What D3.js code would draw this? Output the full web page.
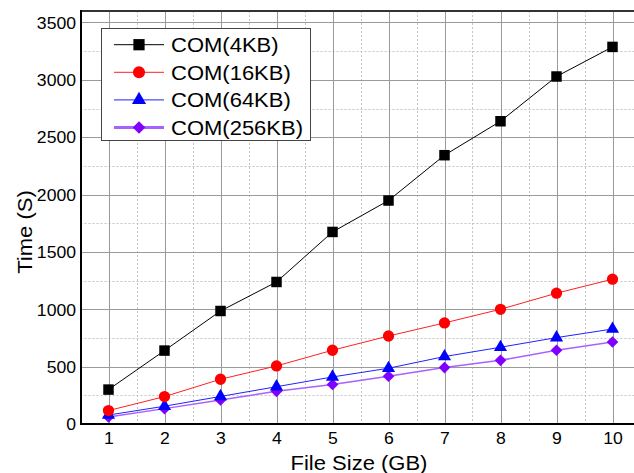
<!DOCTYPE html>
<html>
<head>
<meta charset="utf-8">
<script src="https://cdn.jsdelivr.net/npm/d3@7"></script>
<style>
  body { margin: 0; background: #fff; }
  text { font-family: Arial, "Liberation Sans", sans-serif; fill: #000; }
</style>
</head>
<body>
<script>
// data
var sizes = [1, 2, 3, 4, 5, 6, 7, 8, 9, 10];
var com4 = [300, 640, 985, 1238, 1674, 1948, 2343, 2639, 3029, 3287];
var com16 = [117, 239, 390, 506, 643, 767, 881, 1000, 1140, 1262];
var com64 = [78, 155, 240, 325, 410, 486, 588, 669, 753, 828];
var com256 = [61, 134, 209, 285, 344, 416, 492, 555, 643, 715];
var names = ["COM(4KB)", "COM(16KB)", "COM(64KB)", "COM(256KB)"];
var yTicks = [0, 500, 1000, 1500, 2000, 2500, 3000, 3500];

var series = [
    { name: names[0], values: com4, color: "#000000", line: "#000000", lw: 1, shape: d3.symbolSquare, size: 110, rot: 0 },
    { name: names[1], values: com16, color: "#ff0000", line: "#ff2020", lw: 1, shape: d3.symbolCircle, size: 100, rot: 0 },
    { name: names[2], values: com64, color: "#0000ff", line: "#2020ff", lw: 1, shape: d3.symbolTriangle, size: 75, rot: 0 },
    { name: names[3], values: com256, color: "#8000ff", line: "#a860ff", lw: 1.5, shape: d3.symbolSquare, size: 68, rot: 45 }
];

var width = 634, height = 473;

var svg = d3.select("body").append("svg")
    .attr("width", width)
    .attr("height", height);

var x = d3.scaleLinear().domain([0.5, 10.5]).range([80.5, 640.5]);
var y = d3.scaleLinear().domain([0, 3600]).range([424, 11]);

// grid: minor dotted, major solid
var grid = svg.append("g");
var minorX = sizes.map(function (d) { return d + 0.5; });
var minorY = yTicks.map(function (d) { return d + 250; });

grid.selectAll(".mx").data(minorX).enter().append("line")
    .attr("x1", function (d) { return Math.round(x(d)) + 0.5; })
    .attr("x2", function (d) { return Math.round(x(d)) + 0.5; })
    .attr("y1", y(3600)).attr("y2", y(0))
    .attr("stroke", "#c4c4c4").attr("stroke-dasharray", "2,2");
grid.selectAll(".my").data(minorY).enter().append("line")
    .attr("y1", function (d) { return Math.round(y(d)) + 0.5; })
    .attr("y2", function (d) { return Math.round(y(d)) + 0.5; })
    .attr("x1", x(0.5)).attr("x2", width)
    .attr("stroke", "#c4c4c4").attr("stroke-dasharray", "2,2");
grid.selectAll(".Mx").data(sizes).enter().append("line")
    .attr("x1", function (d) { return Math.round(x(d)) + 0.5; })
    .attr("x2", function (d) { return Math.round(x(d)) + 0.5; })
    .attr("y1", y(3600)).attr("y2", y(0))
    .attr("stroke", "#9a9a9a");
grid.selectAll(".My").data(yTicks.slice(1)).enter().append("line")
    .attr("y1", function (d) { return Math.round(y(d)) + 0.5; })
    .attr("y2", function (d) { return Math.round(y(d)) + 0.5; })
    .attr("x1", x(0.5)).attr("x2", width)
    .attr("stroke", "#9a9a9a");

// frame
svg.append("line").attr("x1", 81).attr("x2", width).attr("y1", 11).attr("y2", 11)
    .attr("stroke", "#333").attr("stroke-width", 2);
svg.append("line").attr("x1", 81).attr("x2", 81).attr("y1", 10).attr("y2", 425)
    .attr("stroke", "#000").attr("stroke-width", 2);
svg.append("line").attr("x1", 80).attr("x2", width).attr("y1", 424).attr("y2", 424)
    .attr("stroke", "#000").attr("stroke-width", 2);

// axes labels (ticks hidden, just the text)
var xAxis = d3.axisBottom(x).tickValues(sizes).tickSize(0).tickPadding(9);
var yAxis = d3.axisLeft(y).tickValues(yTicks).tickFormat(d3.format("d")).tickSize(0).tickPadding(5);

var gx = svg.append("g").attr("transform", "translate(0,424)").call(xAxis);
var gy = svg.append("g").attr("transform", "translate(81,0)").call(yAxis);
[gx, gy].forEach(function (g) {
    g.select(".domain").remove();
    g.selectAll("text").style("font-size", "16px").style("font-family", "Arial, 'Liberation Sans', sans-serif").attr("fill", "#000");
});
gy.selectAll("text").attr("dy", "0.36em");

// lines and markers
var line = d3.line()
    .x(function (d, i) { return x(sizes[i]); })
    .y(function (d) { return y(d); });

series.slice().reverse().forEach(function (s) {
    svg.append("path")
        .datum(s.values)
        .attr("d", line)
        .attr("fill", "none")
        .attr("stroke", s.line)
        .attr("stroke-width", s.lw);
});
series.slice().reverse().forEach(function (s) {
    var sym = d3.symbol().type(s.shape).size(s.size);
    svg.selectAll(null)
        .data(s.values)
        .enter().append("path")
        .attr("d", sym)
        .attr("transform", function (d, i) { return "translate(" + x(sizes[i]) + "," + y(d) + ") rotate(" + s.rot + ")"; })
        .attr("fill", s.color);
});

// legend
var legend = svg.append("g");
legend.append("rect")
    .attr("x", 101.5).attr("y", 28.5).attr("width", 209).attr("height", 112)
    .attr("fill", "#fff").attr("stroke", "#444");
var rows = legend.selectAll(".row").data(series).enter().append("g")
    .attr("transform", function (d, i) { return "translate(0," + (44.7 + i * 27.6) + ")"; });
rows.append("line")
    .attr("x1", 114).attr("x2", 164)
    .attr("stroke", function (d) { return d.line; })
    .attr("stroke-width", function (d, i) { return i == 3 ? 3 : 1; });
rows.append("path")
    .attr("transform", function (d) { return "translate(139,0) rotate(" + d.rot + ")"; })
    .attr("d", function (d) { return d3.symbol().type(d.shape).size(d.size * 1.15)(); })
    .attr("fill", function (d) { return d.color; });
rows.append("text")
    .attr("x", 171).attr("dy", "0.36em")
    .style("font-size", "20px")
    .text(function (d) { return d.name; });

// axis titles
svg.append("text")
    .attr("x", 359).attr("y", 470)
    .attr("text-anchor", "middle")
    .style("font-size", "20px")
    .text("File Size (GB)");
svg.append("text")
    .attr("transform", "translate(32,232) rotate(-90)")
    .attr("text-anchor", "middle")
    .style("font-size", "20px")
    .text("Time (S)");

// the original font is drawn a bit wider than Arial
svg.selectAll("text").each(function () {
    var len = this.getComputedTextLength();
    d3.select(this).attr("textLength", len * 1.1).attr("lengthAdjust", "spacingAndGlyphs");
});
</script>
</body>
</html>
